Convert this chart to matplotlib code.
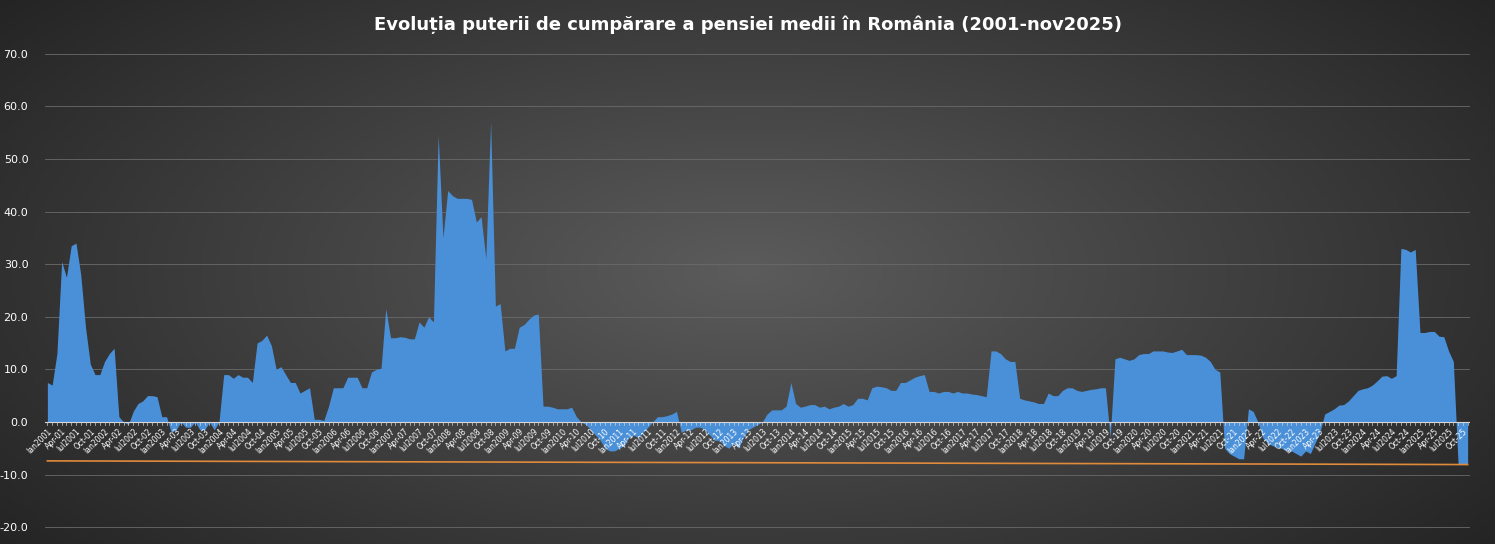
import numpy as np
import matplotlib
matplotlib.use("Agg")
import matplotlib.pyplot as plt

v2001 = [7.5, 7, 13, 30.5, 27.5, 33.5, 34, 28, 18, 11, 9, 9]
v2002 = [11.5, 13, 14, 1, 0, -0.5, 2, 3.5, 4, 5, 5, 4.8]
v2003 = [1, 1, -2, -1.5, 0, -1, -1, 0, -1.5, -1.5, 0, -1.5]
v2004 = [0, 9, 9, 8.3, 9, 8.5, 8.5, 7.5, 15, 15.5, 16.5, 14.5]
v2005 = [10, 10.5, 9, 7.5, 7.5, 5.5, 6, 6.5, 0.5, 0.5, 0.3, 3]
v2006 = [6.5, 6.5, 6.5, 8.5, 8.5, 8.5, 6.5, 6.5, 9.5, 10, 10.2, 21.5]
v2007 = [16, 16, 16.2, 16.1, 15.8, 15.8, 19, 18, 20, 19, 54.5, 35]
v2008 = [44, 43, 42.5, 42.5, 42.5, 42.3, 38, 39, 31, 57, 22, 22.5]
v2009 = [13.5, 14, 14, 18, 18.5, 19.5, 20.3, 20.5, 3, 3, 2.8, 2.5]
v2010 = [2.5, 2.5, 2.8, 1, 0, -0.5, -1.5, -2.5, -3.5, -5, -5.5, -5.5]
v2011 = [-5, -4.5, -3, -2.5, -3, -2, -1, 0, 1, 1, 1.2, 1.5]
v2012 = [2, -2, -1.5, -1.5, -1, -1, -1.5, -2.5, -3.5, -3.5, -4.5, -5]
v2013 = [-4, -5, -3, -1.5, -1, -0.5, 0, 1.5, 2.3, 2.3, 2.3, 3]
v2014 = [7.5, 3.5, 2.8, 3, 3.3, 3.3, 2.8, 3, 2.5, 2.8, 3, 3.5]
v2015 = [3, 3.3, 4.5, 4.5, 4.2, 6.5, 6.8, 6.7, 6.5, 6, 6, 7.5]
v2016 = [7.5, 8, 8.5, 8.8, 9, 5.8, 5.8, 5.5, 5.8, 5.8, 5.5, 5.8]
v2017 = [5.5, 5.5, 5.3, 5.2, 5, 4.8, 13.5, 13.5, 13, 12, 11.5, 11.5]
v2018 = [4.5, 4.2, 4, 3.8, 3.5, 3.5, 5.5, 5, 5, 6, 6.5, 6.5]
v2019 = [6, 5.8, 6, 6.2, 6.3, 6.5, 6.5, -3, 12, 12.3, 12, 11.7]
v2020 = [12, 12.8, 13, 13, 13.5, 13.5, 13.5, 13.3, 13.2, 13.5, 13.8, 12.8]
v2021 = [12.8, 12.8, 12.7, 12.3, 11.5, 10, 9.5, -5, -6, -6.5, -7, -7]
v2022 = [2.5, 2, 0, -3, -4, -4.5, -4.8, -5, -5.5, -5.5, -6, -6.5]
v2023 = [-5.5, -6, -4, -2, 1.5, 2, 2.5, 3.2, 3.3, 4, 5, 6]
v2024 = [6.3, 6.5, 7, 7.8, 8.7, 8.8, 8.3, 8.8, 33, 32.8, 32.3, 32.8]
v2025 = [17, 17, 17.2, 17.2, 16.3, 16.2, 13.5, 11.5, -8, -8, -8]
years = list(range(2001, 2026))
values = (v2001 + v2002 + v2003 + v2004 + v2005 + v2006 + v2007 + v2008 + v2009 + v2010 +
          v2011 + v2012 + v2013 + v2014 + v2015 + v2016 + v2017 + v2018 + v2019 + v2020 +
          v2021 + v2022 + v2023 + v2024 + v2025)
trend_ends = [-7.4, -8.1]
yticks = [-20, -10, 0, 10, 20, 30, 40, 50, 60, 70]

labels = []
for y in years:
    for m in range(12):
        yy = str(y)[2:]
        labels.append({0: f"Ian{y}", 3: f"Apr-{yy}", 6: f"Iul{y}", 9: f"Oct-{yy}"}.get(m, ""))
labels = labels[:len(values)]
x = np.arange(len(values))
vals = np.array(values)

W, H = 1495, 544
fig = plt.figure(figsize=(W/100, H/100), dpi=100)
bg = fig.add_axes([0, 0, 1, 1])
gx = np.linspace(-1, 1, 400)
gy = np.linspace(-1, 1, 150)
X, Y = np.meshgrid(gx, gy)
R = np.sqrt(X**2 + (Y*0.8)**2)
G = 0.36 - 0.17*np.clip(R, 0, 1.3)
bg.imshow(np.dstack([G, G, G]), aspect='auto', extent=[0, 1, 0, 1])
bg.axis('off')

ax = fig.add_axes([45/W, 0, 1425/W, 504/H])
ax.patch.set_alpha(0)
ax.fill_between(x, vals, 0, color='#4a90d9', lw=0)
ax.plot([x[0], x[-1]], trend_ends, color='#e08a3c', lw=1.2)
ax.set_xlim(-0.5, len(values) - 0.5)
ax.set_ylim(-23.2, 72.6)
ax.set_yticks(yticks)
ax.set_yticklabels([f"{t:.1f}" for t in yticks], color='white', fontsize=8)
for t in yticks:
    ax.axhline(t, color='#6a6a6a', lw=0.6, zorder=0)
ax.axhline(0, color='#d8d8d8', lw=0.8)
for s in ax.spines.values():
    s.set_visible(False)
ax.tick_params(axis='y', length=0, pad=12)
ax.set_xticks([])
for i in x:
    ax.plot([i, i], [0, -0.5], color='#d0d0d0', lw=0.5)
    if labels[i]:
        ax.text(i, -0.9, labels[i], rotation=45, ha='right', va='top', fontsize=5.5,
                color='white', rotation_mode='anchor')

fig.text(0.5, 0.955, "Evoluția puterii de cumpărare a pensiei medii în România (2001-nov2025)",
         ha='center', va='center', color='white', fontsize=13, fontweight='bold')
fig.savefig("out.png", dpi=100)
